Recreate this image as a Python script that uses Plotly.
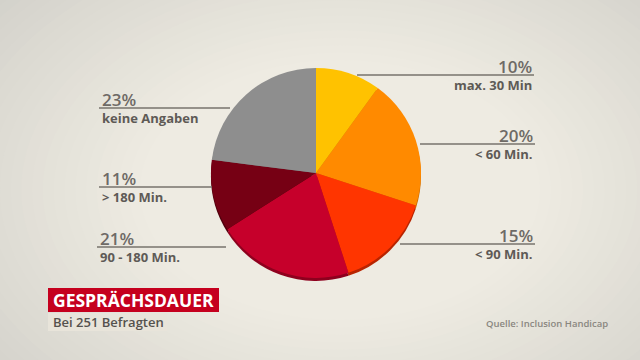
import plotly.graph_objects as go

categories = ["max. 30 Min", "< 60 Min.", "< 90 Min.", "90 - 180 Min.", "> 180 Min.", "keine Angaben"]
values = [10, 20, 15, 21, 11, 23]
pct_labels = ["10%", "20%", "15%", "21%", "11%", "23%"]
colors = ["#FFC200", "#FF8A00", "#FF3500", "#C6002B", "#760014", "#8E8E8E"]
dark_colors = ["#C99600", "#C86A00", "#B82400", "#8E001E", "#50000D", "#6A6A6A"]

W, H = 640, 360
cx, cy, r = 316, 173, 105

def px(x):
    return x / W

def py(y):
    return 1 - y / H

fig = go.Figure()
# 3D edge
fig.add_trace(go.Pie(values=values, labels=categories, sort=False, direction="clockwise", rotation=0,
                     marker=dict(colors=dark_colors, line=dict(width=0)), textinfo="none", hoverinfo="skip",
                     showlegend=False,
                     domain=dict(x=[px(cx - r), px(cx + r)], y=[py(cy + r + 3), py(cy - r + 3)])))
fig.add_trace(go.Pie(values=values, labels=categories, sort=False, direction="clockwise", rotation=0,
                     marker=dict(colors=colors, line=dict(width=0)), textinfo="none",
                     showlegend=False,
                     domain=dict(x=[px(cx - r), px(cx + r)], y=[py(cy + r), py(cy - r)])))

shapes = []
# background vignette
def mix(c1, c2, t):
    a = [int(c1[i:i + 2], 16) for i in (1, 3, 5)]
    b = [int(c2[i:i + 2], 16) for i in (1, 3, 5)]
    return "#%02x%02x%02x" % tuple(round(a[k] + (b[k] - a[k]) * t) for k in range(3))

n = 40
for k in range(n):
    t = k / (n - 1)
    rx = 620 - t * 420
    ry = 420 - t * 290
    ecx, ecy = 340, 190
    shapes.append(dict(type="circle", xref="paper", yref="paper", layer="below",
                       x0=px(ecx - rx), x1=px(ecx + rx), y0=py(ecy + ry), y1=py(ecy - ry),
                       fillcolor=mix("#B9B9B4", "#EEEBE2", t ** 0.8), line=dict(width=0)))

# label positions: (line y, x0, x1, side)
label_pos = [
    (75, 357, 534, "right"),
    (144, 420, 535, "right"),
    (244, 400, 535, "right"),
    (247, 97, 226, "left"),
    (187, 99, 212, "left"),
    (108, 99, 230, "left"),
]

annotations = []
for i, (ly, x0, x1, side) in enumerate(label_pos):
    shapes.append(dict(type="line", xref="paper", yref="paper", x0=px(x0), x1=px(x1), y0=py(ly), y1=py(ly),
                       line=dict(color="#77736D", width=1.5)))
    if side == "right":
        ax, anchor = px(x1), "right"
    else:
        ax, anchor = px(x0 + 1), "left"
    annotations.append(dict(xref="paper", yref="paper", x=ax, y=py(ly + 5), text=pct_labels[i],
                            showarrow=False, xanchor=anchor, yanchor="bottom",
                            font=dict(family="Open Sans", size=17, color="#6E6A66", weight=600)))
    annotations.append(dict(xref="paper", yref="paper", x=ax, y=py(ly - 1), text=categories[i],
                            showarrow=False, xanchor=anchor, yanchor="top",
                            font=dict(family="Open Sans", size=13, color="#5E5A56", weight=700)))

# title box
shapes.append(dict(type="rect", xref="paper", yref="paper", x0=px(48), x1=px(219), y0=py(312), y1=py(288),
                   fillcolor="#C5001E", line=dict(width=0)))
shapes.append(dict(type="rect", xref="paper", yref="paper", x0=px(48), x1=px(167), y0=py(331), y1=py(313),
                   fillcolor="#E8E4DA", line=dict(width=0)))
annotations.append(dict(xref="paper", yref="paper", x=px(51), y=py(300), text="GESPRÄCHSDAUER",
                        showarrow=False, xanchor="left", yanchor="middle",
                        font=dict(family="Open Sans", size=17.5, color="white", weight=700)))
annotations.append(dict(xref="paper", yref="paper", x=px(51), y=py(322), text="Bei 251 Befragten",
                        showarrow=False, xanchor="left", yanchor="middle",
                        font=dict(family="Open Sans", size=13, color="#55524E", weight=600)))
annotations.append(dict(xref="paper", yref="paper", x=px(484), y=py(323), text="Quelle: Inclusion Handicap",
                        showarrow=False, xanchor="left", yanchor="middle",
                        font=dict(family="Open Sans", size=9.5, color="#8A8780", weight=600)))

fig.update_layout(width=W, height=H, margin=dict(l=0, r=0, t=0, b=0),
                  paper_bgcolor="#B9B9B4", plot_bgcolor="rgba(0,0,0,0)",
                  shapes=shapes, annotations=annotations, showlegend=False)

fig.write_html("out.html", config={"displayModeBar": False},
               post_script="document.body.style.margin='0px';document.body.style.overflow='hidden';")
